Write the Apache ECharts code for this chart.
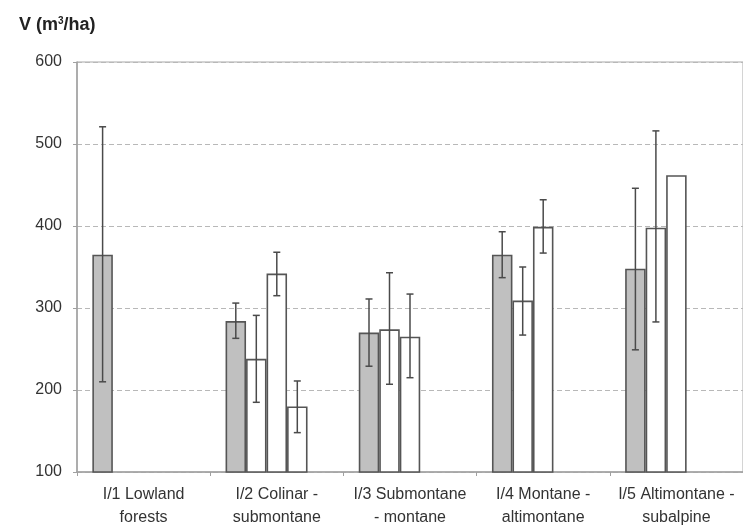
<!DOCTYPE html>
<html>
<head>
<meta charset="utf-8">
<script src="https://cdn.jsdelivr.net/npm/echarts@6/dist/echarts.min.js"></script>
<style>
html,body{margin:0;padding:0;background:#fff;}
#chart{width:743px;height:529px;}
</style>
</head>
<body>
<div id="chart"></div>
<script>
// ---- data ----
var categories = ['I/1 Lowland\nforests', 'I/2 Colinar -\nsubmontane', 'I/3 Submontane\n- montane', 'I/4 Montane -\naltimontane', 'I/5 Altimontane -\nsubalpine'];
var yTicks = [100, 200, 300, 400, 500, 600];

var s1 = [365, 284, 270, 365, 348];
var s1Hi = [521, 306, 311, 393, 446];
var s1Lo = [210, 263, 229, 337, 249];

var s2 = [null, 238, 274, 309, 398];
var s2Hi = [null, 291, 343, 350, 516];
var s2Lo = [null, 185, 207, 267, 283];

var s3 = [null, 342, 265, 399, 462];
var s3Hi = [null, 368, 317, 432, null];
var s3Lo = [null, 315, 215, 367, null];

var s4 = [null, 180, null, null, null];
var s4Hi = [null, 211, null, null, null];
var s4Lo = [null, 148, null, null, null];

var s5 = [null, null, null, null, null];

// ---- build ----
var BAR_W = 20.5;
var NSER = 5;
var values = [s1, s2, s3, s4, s5];
var his = [s1Hi, s2Hi, s3Hi, s4Hi, null];
var los = [s1Lo, s2Lo, s3Lo, s4Lo, null];
var fills = ['#c0c0c0', '#ffffff', '#ffffff', '#ffffff', '#ffffff'];
var FONT = 'Liberation Sans, Arial, sans-serif';

var series = [];
values.forEach(function (v, i) {
  series.push({
    type: 'bar',
    data: v,
    barWidth: BAR_W,
    barGap: '0%',
    itemStyle: { color: fills[i], borderColor: '#555555', borderWidth: 1.6 },
    emphasis: { disabled: true },
    z: 2
  });
});

his.forEach(function (hi, i) {
  if (!hi) return;
  var lo = los[i];
  var d = [];
  for (var k = 0; k < hi.length; k++) {
    if (hi[k] != null && lo[k] != null) d.push([k, lo[k], hi[k]]);
  }
  var offset = (i - (NSER - 1) / 2) * BAR_W;
  series.push({
    type: 'custom',
    z: 5,
    data: d,
    encode: { x: 0, y: [1, 2] },
    renderItem: function (params, api) {
      var c = api.value(0);
      var pLo = api.coord([c, api.value(1)]);
      var pHi = api.coord([c, api.value(2)]);
      var x = pLo[0] + offset;
      var cap = 3.5;
      var st = { stroke: '#4a4a4a', lineWidth: 1.5 };
      return {
        type: 'group',
        children: [
          { type: 'line', shape: { x1: x, y1: pLo[1], x2: x, y2: pHi[1] }, style: st },
          { type: 'line', shape: { x1: x - cap, y1: pHi[1], x2: x + cap, y2: pHi[1] }, style: st },
          { type: 'line', shape: { x1: x - cap, y1: pLo[1], x2: x + cap, y2: pLo[1] }, style: st }
        ]
      };
    }
  });
});

var chart = echarts.init(document.getElementById('chart'), null, { renderer: 'canvas' });
chart.setOption({
  animation: false,
  backgroundColor: '#ffffff',
  title: {
    text: '{a|V (m}{s|3}{a|/ha)}',
    left: 14,
    top: 11,
    textStyle: {
      rich: {
        a: { fontFamily: FONT, fontSize: 18, fontWeight: 'bold', color: '#222' },
        s: { fontFamily: FONT, fontSize: 10, fontWeight: 'bold', color: '#222', verticalAlign: 'top', padding: [0, 0, 7, 0] }
      }
    }
  },
  grid: {
    left: 77, top: 62, width: 668, bottom: 57,
    show: true, borderColor: '#a8a8a8', borderWidth: 1, backgroundColor: 'transparent'
  },
  xAxis: {
    type: 'category',
    data: categories,
    boundaryGap: true,
    axisLine: { lineStyle: { color: '#a0a0a0', width: 1.5 } },
    axisTick: { show: true, length: 4, lineStyle: { color: '#a0a0a0' } },
    axisLabel: {
      interval: 0,
      margin: 11,
      lineHeight: 23,
      fontFamily: FONT,
      fontSize: 16,
      color: '#333'
    },
    splitLine: { show: false }
  },
  yAxis: {
    type: 'value',
    min: yTicks[0],
    max: yTicks[yTicks.length - 1],
    interval: 100,
    axisLine: { show: true, lineStyle: { color: '#a0a0a0', width: 1.5 } },
    axisTick: { show: true, length: 4, lineStyle: { color: '#a0a0a0' } },
    axisLabel: {
      margin: 15,
      fontFamily: FONT,
      fontSize: 16,
      color: '#333'
    },
    splitLine: { show: true, lineStyle: { color: '#b8b8b8', type: [5, 3], width: 1 } }
  },
  series: series
});
</script>
</body>
</html>
